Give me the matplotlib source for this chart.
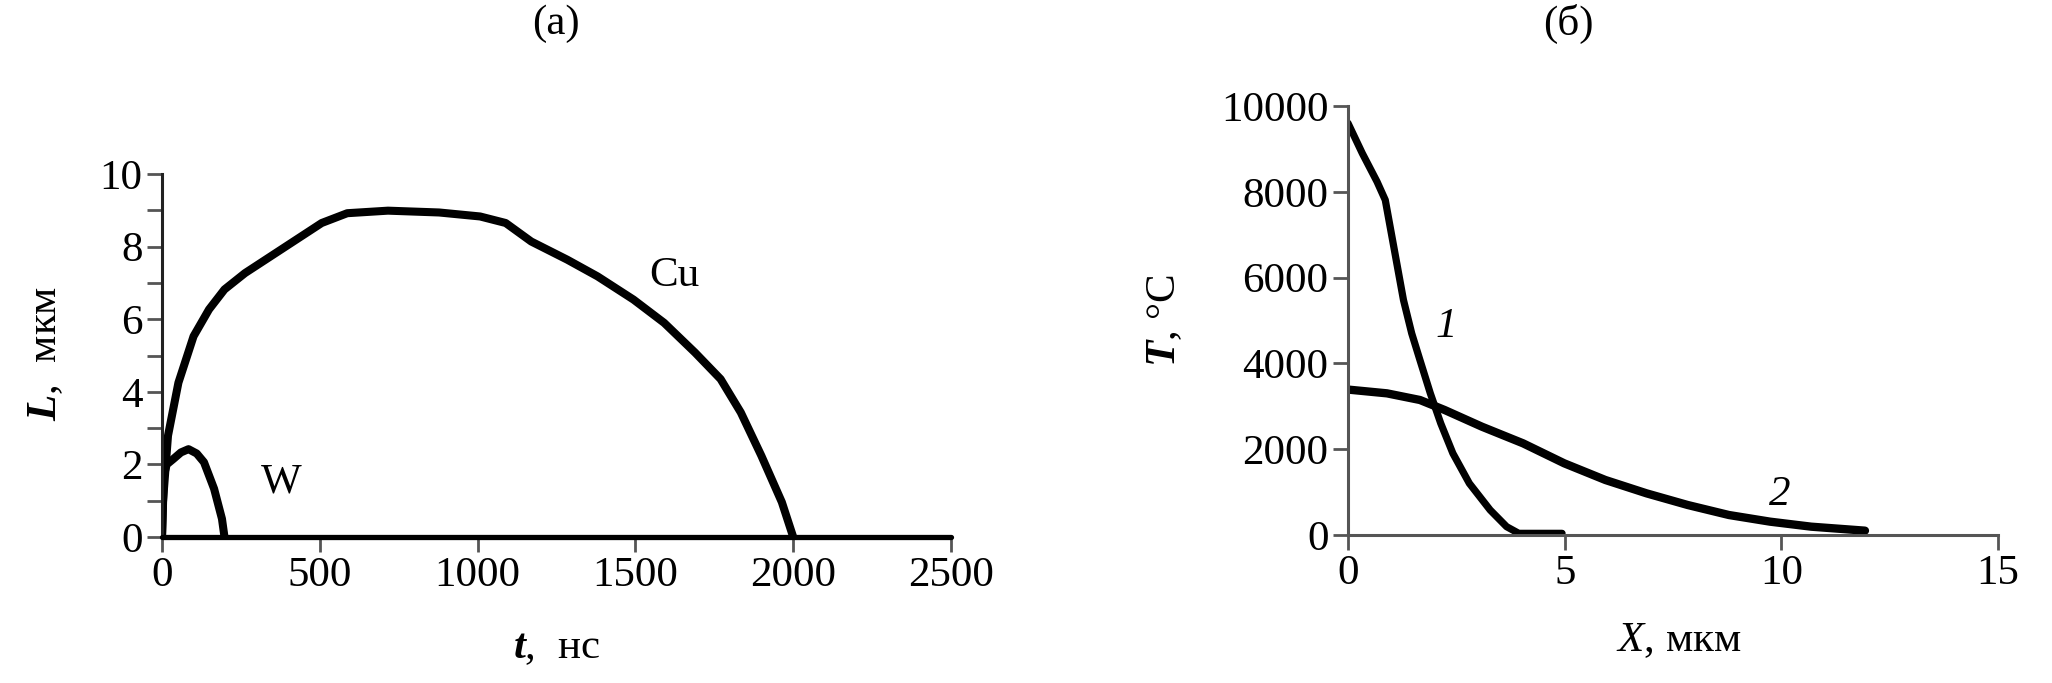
import numpy as np
import matplotlib
matplotlib.use('Agg')
from matplotlib import pyplot as plt
from matplotlib.ticker import MultipleLocator, FuncFormatter

plt.rcParams['font.family'] = ['Liberation Serif', 'DejaVu Serif']
plt.rcParams['mathtext.fontset'] = 'custom'
plt.rcParams['mathtext.it'] = 'Liberation Serif:italic'
plt.rcParams['mathtext.bf'] = 'Liberation Serif:italic:bold'
plt.rcParams['mathtext.rm'] = 'Liberation Serif'

# (a) crater depth vs time
cu_t = [0, 3, 19, 52, 100, 149, 198, 263, 344, 425, 506, 587, 716, 878, 1008,
        1089, 1170, 1284, 1380, 1494, 1591, 1689, 1770, 1834, 1899, 1964, 2000]
cu_L = [0, 0.96, 2.79, 4.25, 5.53, 6.27, 6.82, 7.27, 7.73, 8.19, 8.65, 8.92, 8.99,
        8.94, 8.83, 8.65, 8.14, 7.64, 7.18, 6.54, 5.9, 5.08, 4.35, 3.43, 2.24, 0.96, 0]
w_t = [0, 6, 15, 36, 60, 84, 110, 133, 165, 190, 198]
w_L = [0, 1.7, 2.0, 2.15, 2.33, 2.42, 2.3, 2.06, 1.33, 0.5, 0]

# (б) temperature vs depth
x1 = [0, 0.33, 0.67, 0.86, 1.0, 1.14, 1.28, 1.47, 1.66, 1.9, 2.14, 2.42, 2.8,
      3.28, 3.66, 3.94, 4.94]
T1 = [9600, 8897, 8236, 7809, 7032, 6255, 5478, 4701, 4079, 3302, 2603, 1904,
      1204, 583, 194, 39, 39]
x2 = [0, 0.9, 1.66, 2.23, 3.09, 4.04, 4.99, 5.94, 6.89, 7.84, 8.79, 9.74, 10.69, 11.93]
T2 = [3390, 3302, 3147, 2914, 2525, 2137, 1671, 1282, 971, 699, 466, 311, 194, 101]

W, H = 2052, 683
fig = plt.figure(figsize=(W / 100, H / 100), dpi=100)

FS = 31
LW = 5.8
gray = '#555555'

ax1 = fig.add_axes([162 / W, (H - 537) / H, (951 - 162) / W, (537 - 174) / H])
ax1.plot(cu_t, cu_L, color='black', lw=LW, solid_capstyle='round', solid_joinstyle='round')
ax1.plot(w_t, w_L, color='black', lw=LW, solid_capstyle='round', solid_joinstyle='round')
ax1.set_xlim(0, 2500)
ax1.set_ylim(0, 10)
ax1.yaxis.set_major_locator(MultipleLocator(1))
ax1.yaxis.set_major_formatter(FuncFormatter(lambda v, p: '%d' % v if int(round(v)) % 2 == 0 else ''))
ax1.xaxis.set_major_locator(MultipleLocator(500))
for s in ['top', 'right']:
    ax1.spines[s].set_visible(False)
ax1.spines['left'].set_linewidth(2.2)
ax1.spines['left'].set_color('#222222')
ax1.spines['bottom'].set_linewidth(3.8)
ax1.spines['bottom'].set_color('black')
ax1.spines['bottom'].set_capstyle('round')
ax1.tick_params(direction='out', length=11, width=2, color=gray, labelsize=FS, pad=3)
ax1.text(1622, 7.2, 'Cu', fontsize=FS, ha='center', va='center')
ax1.text(377, 1.5, 'W', fontsize=FS, ha='center', va='center')
fig.text(556 / W, 1 - 24 / H, '(a)', fontsize=FS, ha='center', va='center')
fig.text(556 / W, 1 - 648 / H, r'$\mathbf{t}$,  нс', fontsize=FS, ha='center', va='center')
fig.text(46 / W, 1 - 353 / H, r'$\mathbf{L}$,  мкм', fontsize=FS, ha='center', va='center', rotation=90)

ax2 = fig.add_axes([1348 / W, (H - 535) / H, (1998 - 1348) / W, (535 - 106) / H])
ax2.plot(x1, T1, color='black', lw=5.2, solid_capstyle='round', solid_joinstyle='round')
ax2.plot(x2, T2, color='black', lw=6.0, solid_capstyle='round', solid_joinstyle='round')
ax2.set_xlim(0, 15)
ax2.set_ylim(0, 10000)
ax2.xaxis.set_major_locator(MultipleLocator(5))
ax2.yaxis.set_major_locator(MultipleLocator(2000))
for s in ['top', 'right']:
    ax2.spines[s].set_visible(False)
for s in ['left', 'bottom']:
    ax2.spines[s].set_linewidth(2.2)
    ax2.spines[s].set_color(gray)
ax2.tick_params(direction='out', length=11, width=2, color=gray, labelsize=FS, pad=3)
ax2.text(2.26, 4848, '1', fontsize=FS, style='italic', ha='center', va='center')
ax2.text(9.97, 932, '2', fontsize=FS, style='italic', ha='center', va='center')
fig.text(1568 / W, 1 - 24 / H, '(б)', fontsize=FS, ha='center', va='center')
fig.text(1679 / W, 1 - 641 / H, r'$\mathit{X}$, мкм', fontsize=FS, ha='center', va='center')
fig.text(1165 / W, 1 - 320 / H, r'$\mathbf{T}$, °C', fontsize=FS, ha='center', va='center', rotation=90)

fig.savefig('out.png', dpi=100, facecolor='white')
